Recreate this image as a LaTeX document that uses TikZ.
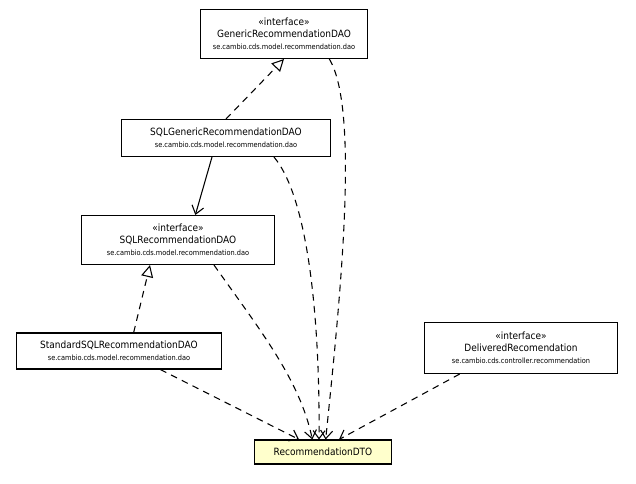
\documentclass[tikz,border=0pt]{standalone}
\usepackage{fontspec}
\setmainfont{DejaVu Sans Condensed}
\usetikzlibrary{arrows.meta}
\begin{document}
\begin{tikzpicture}[x=0.75pt,y=-0.75pt,
  cls/.style={draw,thick,fill=white,align=center,inner sep=2pt,font=\fontsize{7.5}{9}\selectfont},
  dep/.style={draw,thick,dash pattern=on 5pt off 4pt,-{Straight Barb[length=6pt,width=9pt]}},
  real/.style={draw,thick,dash pattern=on 5pt off 4pt,-{Triangle[open,length=9pt,width=9pt]}},
  assoc/.style={draw,thick,-{Straight Barb[length=6pt,width=9pt]}}]
\useasboundingbox (0,0) rectangle (636,483);
\node[cls,text width=162*0.75pt,minimum height=49*0.75pt] (gen) at (284,34) {«interface»\\GenericRecommendationDAO\\{\fontsize{5.5}{7}\selectfont se.cambio.cds.model.recommendation.dao}};
\node[cls,text width=203*0.75pt,minimum height=37*0.75pt] (sqlgen) at (226,138) {SQLGenericRecommendationDAO\\{\fontsize{5.5}{7}\selectfont se.cambio.cds.model.recommendation.dao}};
\node[cls,text width=188*0.75pt,minimum height=49*0.75pt] (sqlrec) at (178,240) {«interface»\\SQLRecommendationDAO\\{\fontsize{5.5}{7}\selectfont se.cambio.cds.model.recommendation.dao}};
\node[cls,text width=200*0.75pt,minimum height=36*0.75pt] (std) at (119,351) {StandardSQLRecommendationDAO\\{\fontsize{5.5}{7}\selectfont se.cambio.cds.model.recommendation.dao}};
\node[cls,text width=188*0.75pt,minimum height=51*0.75pt] (del) at (521,348) {«interface»\\DeliveredRecomendation\\{\fontsize{5.5}{7}\selectfont se.cambio.cds.controller.recommendation}};
\node[cls,fill={rgb,255:red,255;green,255;blue,204},text width=131*0.75pt,minimum height=24*0.75pt] (dto) at (323,452) {RecommendationDTO};
\draw[real] (sqlgen.north) -- (gen.south);
\draw[assoc] (sqlgen.south) ++(-14,0) -- ([xshift=13]sqlrec.north);
\draw[real] ([xshift=11]std.north) -- ([xshift=-21]sqlrec.south);
\draw[dep] ([xshift=34]gen.south) .. controls (360,110) and (340,300) .. ([xshift=2]dto.north);
\draw[dep] ([xshift=36]sqlgen.south) .. controls (310,200) and (320,330) .. ([xshift=-3]dto.north);
\draw[dep] ([xshift=27]sqlrec.south) .. controls (260,330) and (300,380) .. ([xshift=-8]dto.north);
\draw[dep] ([xshift=31]std.south) -- ([xshift=-18]dto.north);
\draw[dep] ([xshift=-46]del.south) -- ([xshift=12]dto.north);
\end{tikzpicture}
\end{document}
